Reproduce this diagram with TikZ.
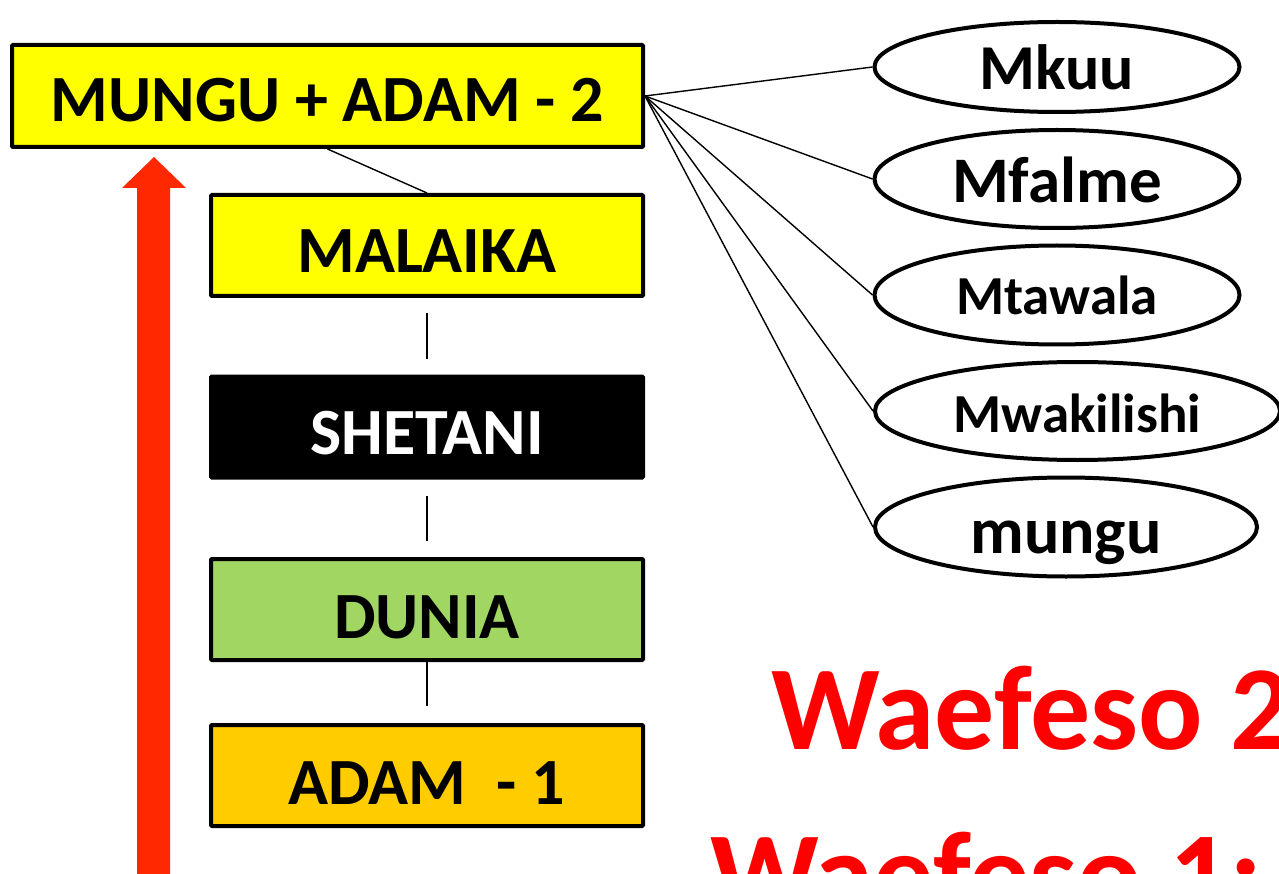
\documentclass[tikz,border=0pt]{standalone}
\usepackage{fontspec}
\setmainfont{Carlito}
\usetikzlibrary{shapes.geometric}
\definecolor{boxyellow}{RGB}{255,255,0}
\definecolor{boxgreen}{RGB}{161,214,99}
\definecolor{boxorange}{RGB}{255,204,0}
\definecolor{arrowred}{RGB}{255,40,0}
\definecolor{textred}{RGB}{255,0,0}
\tikzset{
  levelbox/.style={draw=black, line width=4pt, rounded corners=1pt, minimum width=432pt, minimum height=101pt, inner sep=0pt, text depth=0pt, text height=55pt, font=\bfseries\fontsize{66}{70}\selectfont},
  oval/.style={draw=black, ellipse, line width=4pt, inner sep=0pt, fill=white, text depth=0pt, font=\bfseries\fontsize{64}{68}\selectfont},
  link/.style={line width=1.4pt, black},
}
\begin{document}
\begin{tikzpicture}[x=1pt,y=-1pt]
\clip (0,0) rectangle (1279,874);
\fill[white] (0,0) rectangle (1279,874);
% red arrow
\fill[arrowred] (137,880) -- (137,188) -- (122,188) -- (154,157) -- (186,188) -- (170,188) -- (170,880) -- cycle;
% level boxes
\node[levelbox, fill=boxyellow, minimum width=631pt, minimum height=102pt, text height=52pt] (top) at (327.5,96) {MUNGU + ADAM - 2};
\node[levelbox, fill=boxyellow] (malaika) at (427,245.5) {MALAIKA};
\node[levelbox, fill=black, text=white] (shetani) at (427,427) {SHETANI};
\node[levelbox, fill=boxgreen, text height=57pt] (dunia) at (427,609.5) {DUNIA};
\node[levelbox, fill=boxorange, text height=57pt] (adam) at (427,775.5) {ADAM\ \ - 1};
% ovals
\node[oval, minimum width=365pt, minimum height=90pt, text height=46pt] (mkuu) at (1057,67) {Mkuu};
\node[oval, minimum width=365pt, minimum height=98pt, text height=48pt, font=\bfseries\fontsize{65}{69}\selectfont] (mfalme) at (1057,179) {Mfalme};
\node[oval, minimum width=365pt, minimum height=99pt, text height=40pt, font=\bfseries\fontsize{55}{59}\selectfont] (mtawala) at (1057,295) {Mtawala};
\node[oval, minimum width=405pt, minimum height=98pt, text height=42pt, font=\bfseries\fontsize{55}{59}\selectfont] (mwakilishi) at (1077.5,411) {Mwakilishi};
\node[oval, minimum width=382pt, minimum height=99pt, text height=52pt, font=\bfseries\fontsize{66}{70}\selectfont] (mungu) at (1066,527) {mungu};
% connectors
\draw[link] (top.south) -- (malaika.north);
\draw[link, shorten <=15pt, shorten >=16pt] (malaika.south) -- (shetani.north);
\draw[link, shorten <=16pt, shorten >=16pt] (shetani.south) -- (dunia.north);
\draw[link, shorten >=17pt] (dunia.south) -- (adam.north);
\foreach \e in {mkuu,mfalme,mtawala,mwakilishi,mungu}
  \draw[link] (top.east) -- (\e.west);
% red text
\node[anchor=base west, inner sep=0pt, text=textred, font=\bfseries\fontsize{120}{124}\selectfont] (w2) at (771,749) {Waefeso 2};
\node[anchor=base west, inner sep=0pt, text=textred, font=\bfseries\fontsize{120}{124}\selectfont] (w1) at (710,915) {Waefeso 1:};
\end{tikzpicture}
\end{document}
